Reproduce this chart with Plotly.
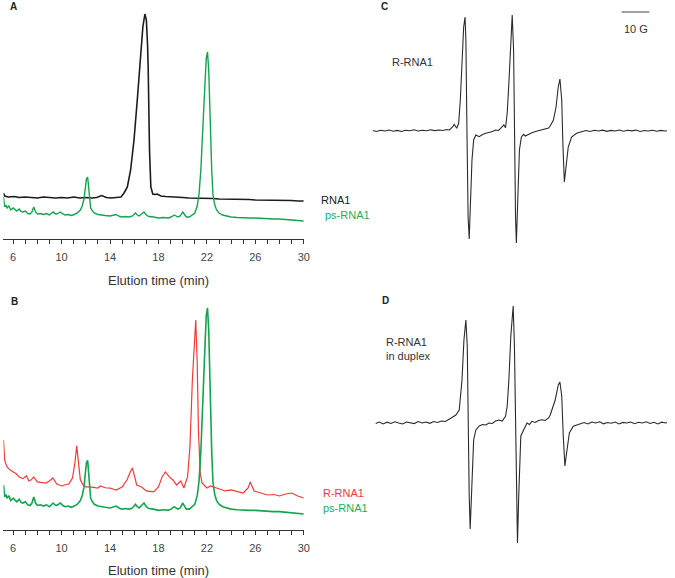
import plotly.graph_objects as go

W, H = 675, 578
FONT = "Arial, Liberation Sans, Helvetica, sans-serif"

# ---------------- HPLC data (elution time in min, absorbance in arbitrary units) ----------------
rna1_t = [5.2, 5.3, 5.6, 6.1, 6.5, 7.0, 7.5, 8.0, 8.5, 9.0, 9.5, 10.0, 10.5, 11.0, 11.5, 12.0, 12.5,
          12.9, 13.3, 13.7, 14.1, 14.5, 14.9, 15.16, 15.43, 15.7, 15.98, 16.25, 16.52, 16.71, 16.88,
          17.0, 17.1, 17.15, 17.26, 17.37, 17.53, 17.7, 17.9, 18.2, 18.6, 19.0, 19.5, 20.0, 20.5,
          21.0, 21.5, 22.0, 22.5, 23.0, 23.5, 24.0, 24.5, 25.0, 25.5, 26.0, 26.5, 27.0, 27.5, 28.0,
          28.5, 29.0, 29.5, 30.0]
rna1_abs = [46, 43, 42, 42.5, 41.5, 42, 41.5, 41, 42, 41.5, 41, 41.5, 41, 42, 41, 41.5, 41,
            41.5, 43.5, 41.5, 41, 41.5, 42, 46, 52, 69, 99, 139, 182, 212, 225,
            219, 194, 172, 89, 52, 45, 44.5, 45, 43, 42.5, 42, 41.5, 41.5, 41,
            41, 40.5, 40.5, 40.5, 40, 40, 40, 39.5, 39.5, 39.5, 39, 39, 39, 38.5, 38.5,
            38.5, 38.5, 38, 38]

ps_t = [5.2, 5.3, 5.4, 5.5, 5.65, 5.8, 6.0, 6.15, 6.3, 6.5, 6.65, 6.8, 7.0, 7.2, 7.4, 7.55, 7.7,
        7.85, 8.0, 8.25, 8.5, 8.75, 9.0, 9.3, 9.45, 9.6, 9.9, 10.1, 10.3, 10.55, 10.8, 11.05,
        11.3, 11.55, 11.7, 11.85, 11.95, 12.05, 12.15, 12.25, 12.4, 12.55, 12.7, 13.0, 13.2,
        13.6, 14.0, 14.5, 14.8, 15.0, 15.3, 15.6, 15.85, 16.1, 16.25, 16.4, 16.6, 16.8, 17.0,
        17.2, 17.6, 18.0, 18.4, 18.8, 19.05, 19.3, 19.45, 19.6, 19.8, 20.0, 20.15, 20.3, 20.55,
        20.8, 21.0, 21.2, 21.35, 21.5, 21.62, 21.75, 21.85, 21.95, 22.05, 22.15, 22.22, 22.3,
        22.4, 22.5, 22.65, 22.8, 23.0, 23.3, 23.6, 24.0, 24.5, 25.0, 25.5, 26.0, 26.5, 27.0,
        27.5, 28.0, 28.5, 29.0, 29.5, 30.0]
ps_abs = [42, 32, 34, 31, 33, 29, 31, 29, 28, 30, 27.5, 27, 28, 25.5, 25, 27, 32,
          27, 25, 25.5, 24.5, 25.5, 24, 27, 25.5, 25, 27, 25, 24, 24.5, 23.5, 24.5,
          26, 29, 33, 40, 50, 60, 62, 46, 31, 28, 26, 24.5, 24,
          23.5, 23, 24.5, 22.5, 22, 22.5, 22, 23, 26, 24, 23, 25, 27, 24,
          22.5, 22, 21, 21.5, 21, 22, 24, 23, 22, 23, 27, 24.5, 22, 22,
          24, 26, 33, 45, 69, 95, 129, 158, 181, 187, 169, 135, 99,
          68, 44, 34, 29, 26, 24, 23, 22, 21.5, 21, 21, 21, 20.5, 20,
          20, 20, 19.5, 19, 19, 18]

rrna_t = [5.2, 5.3, 5.4, 5.5, 5.75, 6.0, 6.25, 6.5, 6.8, 7.1, 7.3, 7.5, 7.7, 8.0, 8.35, 8.7,
          9.0, 9.28, 9.6, 10.0, 10.3, 10.6, 10.9, 11.1, 11.25, 11.4, 11.55, 11.8, 12.0, 12.5,
          13.0, 13.2, 13.6, 14.0, 14.5, 15.0, 15.4, 15.65, 15.85, 16.05, 16.2, 16.6, 17.0,
          17.6, 18.0, 18.3, 18.57, 18.9, 19.2, 19.5, 19.85, 20.1, 20.4, 20.6, 20.8, 21.08,
          21.2, 21.3, 21.45, 21.6, 22.0, 22.3, 22.8, 23.2, 23.5, 24.0, 24.5, 25.0, 25.4,
          25.58, 25.9, 26.5, 27.0, 27.5, 28.0, 28.5, 29.0, 29.5, 30.0]
rrna_abs = [78.7, 62.3, 59, 56.6, 54, 52.5, 51, 48.4, 47, 49.2, 45.1, 46, 48.4, 44.3, 44, 43.4,
            45, 47.5, 42.6, 41, 42, 42.6, 47.5, 60, 73.8, 56.6, 45.9, 41.5, 40.2, 40,
            39.3, 41, 39.5, 39.3, 37.7, 40.2, 45.9, 52, 55.7, 48, 41.8, 40.2, 36.9,
            36.1, 40.2, 48.4, 52.5, 48.4, 45.9, 41.8, 45.1, 39.3, 48.4, 73, 127.9, 177,
            141.8, 86.9, 51.6, 43.4, 39.3, 41, 39.3, 38, 36.9, 37.7, 36.5, 35.2, 39.3,
            44.3, 36.9, 35.2, 33.6, 34, 32.8, 34.4, 35.2, 32.8, 31.1]

# ---------------- EPR data (field in G, first-derivative signal, arbitrary units) ----------------
epr_free_field = [3449.6, 3451, 3452.5, 3454, 3455.5, 3457, 3458.5, 3460, 3461.5, 3463, 3464.5,
                  3466, 3467.5, 3469, 3470.5, 3472, 3473.5, 3475, 3476.2, 3477.25, 3478.5,
                  3479.0, 3479.9, 3480.6, 3481.2, 3481.8, 3482.4, 3482.9, 3483.2, 3483.6,
                  3484.0, 3484.4, 3484.75, 3485.4, 3486.0, 3486.8, 3488.0, 3489.2, 3490.4,
                  3491.6, 3492.8, 3493.9, 3495.0, 3496.3, 3496.9, 3497.5, 3498.1, 3498.7,
                  3499.3, 3499.9, 3500.4, 3500.7, 3501.1, 3501.4, 3501.9, 3502.5, 3503.2,
                  3504.0, 3504.6, 3505.8, 3507.0, 3508.3, 3509.5, 3510.6, 3511.8, 3513.0,
                  3513.6, 3514.75, 3515.7, 3516.5, 3517.1, 3517.75, 3518.2, 3518.7, 3519.3,
                  3520.1, 3521.3, 3523.1, 3524.9, 3526.5, 3528, 3529.5, 3531, 3532.5, 3534,
                  3535.5, 3537, 3538.5, 3540, 3541.5, 3543, 3544.5, 3546, 3547.5, 3549,
                  3550.5, 3552, 3553.5, 3555, 3555.7]
epr_free_signal = [0.5, -0.5, 0.8, 0, 1, -0.3, 0.6, -0.5, 0.7, 0.2, 1.2,
                   0, 0.8, 0.3, 1.3, 0.4, 1, 0.5, 1.5, 1, 4.3,
                   6.7, 2.7, 7.7, 31, 74, 104, 114, 91, -2,
                   -86, -108, -86, -29, -9, -4, -5.7, -3.5, -2.3,
                   -1.5, -0.5, 1, 0.5, 4.3, 6, 3.3, 18, 48,
                   91, 116, 81, -19, -86, -112, -76, -19, -6,
                   -3.3, -5, -3, -1.7, -0.5, 0.3, 1, 2, 3,
                   5, 11, 24, 44, 52, 31, -16, -51, -36,
                   -16, -6, -2.3, -0.7, 0.5, -0.5, 0.8, 0, 0.9, -0.4,
                   0.6, 0, 1, -0.3, 0.7, 0.1, 0.9, -0.5, 0.5, 0,
                   0.8, -0.2, 0.6, 0, 0.3]

epr_duplex_field = [3450.7, 3452, 3453.4, 3454.8, 3456.2, 3457.6, 3459, 3460.4, 3461.8, 3463.2,
                    3464.6, 3466, 3467.4, 3468.8, 3470.2, 3471.6, 3473, 3474.4, 3475.8, 3477.9,
                    3479.6, 3480.8, 3481.8, 3482.5, 3483.2, 3483.7, 3484.0, 3484.4, 3484.75,
                    3485.25, 3486.0, 3486.8, 3488.0, 3489.2, 3490.4, 3491.5, 3492.7, 3493.9,
                    3495.1, 3496.3, 3497.5, 3498.1, 3498.7, 3499.4, 3500.25, 3500.7, 3501.1,
                    3501.4, 3501.8, 3502.25, 3503.0, 3504.0, 3505.25, 3506.1, 3507.0, 3508.2,
                    3509.4, 3510.6, 3511.8, 3513.0, 3513.6, 3515.4, 3516.5, 3517.1, 3517.75,
                    3518.3, 3518.9, 3519.5, 3520.5, 3521.9, 3524.3, 3525.8, 3527.2, 3528.6,
                    3530, 3531.4, 3532.8, 3534.2, 3535.6, 3537, 3538.4, 3539.8, 3541.2, 3542.6,
                    3544, 3545.4, 3546.8, 3548.2, 3549.6, 3551, 3552.4, 3553.8, 3555.2, 3555.7]
epr_duplex_signal = [-0.5, 1, -1, 0.8, -0.5, 1.2, 0, -1, 1, 0.2,
                     -0.6, 1.4, 0, 1, -0.3, 1.5, 0.5, 2, 1.5, 5,
                     8, 13, 43, 83, 103, 77, -7, -73, -106,
                     -73, -17, -7, -3, -1.5, -2, 0, -0.5, 2,
                     3, 2, 6.7, 17, 43, 87, 117, 77, -7,
                     -83, -120, -73, -13, -7, 0, -1.5, 1.7, 0.5,
                     2.5, 3.3, 2.5, 5, 8, 23, 38, 41, 27,
                     -13, -43, -30, -10, -3.3, -1, 0.5, -1, 1,
                     0, 1.2, -0.8, 0.5, -0.3, 1, -1, 0.6, 0, 1,
                     -0.7, 0.8, 0, 1.2, -0.5, 0.7, -1, 0.8, 0, 0.5]

time_ticks = [6, 10, 14, 18, 22, 26, 30]
scale_bar_G = 10

GREEN = "#12a54e"
RED = "#f23838"
BLACK = "#1c1c1c"
GREY = "#333333"


def px(x):
    return x / W


def py(y):
    return 1 - y / H


fig = go.Figure()

# Panel A
fig.add_trace(go.Scatter(x=rna1_t, y=rna1_abs, mode="lines", line=dict(color=BLACK, width=1.6),
                         xaxis="x", yaxis="y", showlegend=False))
fig.add_trace(go.Scatter(x=ps_t, y=ps_abs, mode="lines", line=dict(color=GREEN, width=1.4),
                         xaxis="x", yaxis="y", showlegend=False))
# Panel B
fig.add_trace(go.Scatter(x=rrna_t, y=rrna_abs, mode="lines", line=dict(color=RED, width=1.2),
                         xaxis="x2", yaxis="y2", showlegend=False))
fig.add_trace(go.Scatter(x=ps_t, y=ps_abs, mode="lines", line=dict(color=GREEN, width=1.6),
                         xaxis="x2", yaxis="y2", showlegend=False))
# Panel C
fig.add_trace(go.Scatter(x=epr_free_field, y=epr_free_signal, mode="lines",
                         line=dict(color="#2a2a2a", width=1.1),
                         xaxis="x3", yaxis="y3", showlegend=False))
# Panel D
fig.add_trace(go.Scatter(x=epr_duplex_field, y=epr_duplex_signal, mode="lines",
                         line=dict(color="#2a2a2a", width=1.1),
                         xaxis="x4", yaxis="y4", showlegend=False))

time_axis = dict(range=[5.2, 30], showline=True, linecolor=GREY, linewidth=1,
                 ticks="outside", ticklen=4, tickcolor=GREY, tickwidth=1,
                 tickmode="array", tickvals=time_ticks, ticktext=[str(t) for t in time_ticks],
                 tickfont=dict(family=FONT, size=11, color="#444444"), ticklabelstandoff=4,
                 minor=dict(dtick=1, tick0=5, ticks="outside", ticklen=4, tickcolor=GREY),
                 showgrid=False, zeroline=False, fixedrange=True)

fig.update_layout(
    width=W, height=H, autosize=False,
    margin=dict(l=0, r=0, t=0, b=0),
    paper_bgcolor="white", plot_bgcolor="white",
    xaxis=dict(domain=[px(3.5), px(306.5)], anchor="y", **time_axis),
    yaxis=dict(domain=[py(239), py(10)], range=[0, 229], visible=False),
    xaxis2=dict(domain=[px(3.5), px(306.5)], anchor="y2", **time_axis),
    yaxis2=dict(domain=[py(530), py(300)], range=[4.9, 193.4], visible=False),
    xaxis3=dict(domain=[px(376), px(673)], range=[3449.6, 3555.7], visible=False, anchor="y3"),
    yaxis3=dict(domain=[py(250), py(5)], range=[-119, 126], visible=False),
    xaxis4=dict(domain=[px(376), px(673)], range=[3449.6, 3555.7], visible=False, anchor="y4"),
    yaxis4=dict(domain=[py(550), py(295)], range=[-127, 128], visible=False),
)

ann = []


def text(x, y, s, size=11, color="#222222", xanchor="left", bold=False):
    ann.append(dict(x=px(x), y=py(y), xref="paper", yref="paper", text=("<b>%s</b>" % s) if bold else s,
                    showarrow=False, xanchor=xanchor, yanchor="middle",
                    font=dict(family=FONT, size=size, color=color)))


text(8, 7, "A", size=10, bold=True)
text(9, 301, "B", size=10, bold=True)
text(382, 6, "C", size=10, bold=True)
text(383, 300, "D", size=10, bold=True)
text(322, 200, "RNA1", color="#222222")
text(326, 215, "ps-RNA1", color="#22ad5c")
text(324, 493, "R-RNA1", color="#ff3333")
text(324, 508, "ps-RNA1", color="#22ad5c")
text(160, 280, "Elution time (min)", size=13, color="#333333", xanchor="center")
text(160, 570, "Elution time (min)", size=13, color="#333333", xanchor="center")
text(393, 62, "R-RNA1", color="#333333")
ann.append(dict(x=px(387), y=py(348.5), xref="paper", yref="paper", text="R-RNA1<br>in duplex",
                showarrow=False, xanchor="left", yanchor="middle", align="left",
                font=dict(family=FONT, size=11, color="#333333")))
text(642, 29, "%d G" % scale_bar_G, color="#333333", xanchor="center")
fig.update_layout(annotations=ann)

# scale bar (10 G) in panel C field units
bar_end = 3549.3
fig.add_shape(type="line", xref="x3", yref="paper", x0=bar_end - scale_bar_G, x1=bar_end,
              y0=py(12), y1=py(12), line=dict(color="#444444", width=1))

fig.write_html("out.html", config={"displayModeBar": False, "responsive": False},
               post_script="document.body.style.margin='0px';document.body.style.overflow='hidden';")
